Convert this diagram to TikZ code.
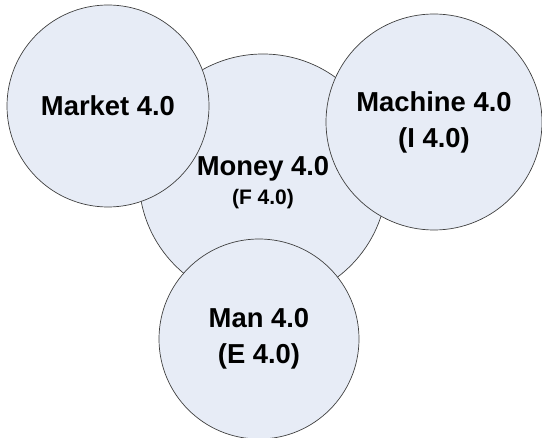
\documentclass[tikz,border=0pt]{standalone}
\usepackage{fontspec}
\setmainfont{Liberation Sans}

\tikzset{
  ring/.style={circle,draw=black!75,fill=ringblue,line width=0.7pt,inner sep=0pt,
    align=center,font=\bfseries\fontsize{27.4}{36}\selectfont},
  ringtext/.style={inner sep=0pt,align=center,font=\bfseries\fontsize{27.4}{36}\selectfont}
}
\definecolor{ringblue}{RGB}{231,236,246}

\begin{document}
\begin{tikzpicture}[x=1pt, y=-1pt]
        \useasboundingbox (0,0) rectangle (542,438);

        \node[ring, minimum size=248pt] (money) at (263,178) {};
        \node[ringtext] (moneytext) at (263,183)
          {Money 4.0\\[-7pt]{\fontsize{21}{25}\selectfont (F 4.0)}};
        \node[ring, minimum size=202pt] (market) at (108,106) {Market 4.0};
        \node[ring, minimum size=216pt] (machine) at (434,122) {Machine 4.0\\(I 4.0)};
        \node[ring, minimum size=200pt] (man) at (259,339) {Man 4.0\\(E 4.0)};
    \end{tikzpicture}
\end{document}
